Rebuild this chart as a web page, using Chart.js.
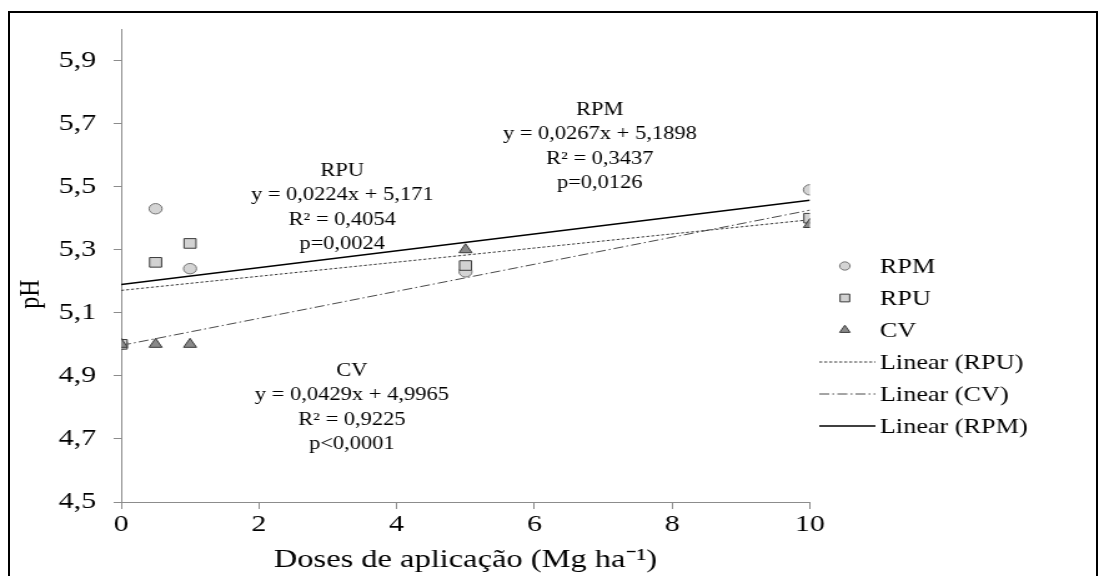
<!DOCTYPE html>
<html>
<head>
<meta charset="utf-8">
<script src="https://cdn.jsdelivr.net/npm/chart.js@4.4.0/dist/chart.umd.min.js"></script>
<style>
  html, body { margin: 0; padding: 0; background: #fff; overflow: hidden; }
  #frame { position: absolute; left: 8px; top: 11px; width: 1090px; height: 640px; border: 2px solid #000; box-sizing: border-box; }
  #chart { position: absolute; left: 0; top: 0; }
</style>
</head>
<body>
<div id="frame"></div>
<!-- drawn at 880px and stretched to 1099px, the reference is wider than it is tall -->
<canvas id="chart" width="880" height="576" style="width:1099px;height:576px"></canvas>
<script>
const doses = [0, 0.5, 1, 5, 10];
const phRPM = [5.00, 5.43, 5.24, 5.23, 5.49];
const phRPU = [5.00, 5.26, 5.32, 5.25, 5.40];
const phCV = [5.00, 5.00, 5.00, 5.30, 5.38];

// fitted lines, in legend order: RPU, CV, RPM
const trendNames = ['Linear (RPU)', 'Linear (CV)', 'Linear (RPM)'];
const trendSlope = [0.0224, 0.0429, 0.0267];
const trendIntercept = [5.171, 4.9965, 5.1898];

const xTicks = [0, 2, 4, 6, 8, 10];
const yTicks = [4.5, 4.7, 4.9, 5.1, 5.3, 5.5, 5.7, 5.9];

const eqRPU = ['RPU', 'y = 0,0224x + 5,171', 'R² = 0,4054', 'p=0,0024'];
const eqRPM = ['RPM', 'y = 0,0267x + 5,1898', 'R² = 0,3437', 'p=0,0126'];
const eqCV = ['CV', 'y = 0,0429x + 4,9965', 'R² = 0,9225', 'p<0,0001'];

const serif = "'Liberation Serif', 'Times New Roman', serif";

const pts = (ys) => doses.map((x, i) => ({x: x, y: ys[i]}));
const trend = (k) => [doses[0], doses[doses.length - 1]].map(x => ({x: x, y: trendIntercept[k] + trendSlope[k] * x}));

// where each equation block sits (data coords of its first line)
const eqPlaces = [
    {lines: eqRPU, x: 3.21, y: 5.549},
    {lines: eqRPM, x: 6.95, y: 5.743},
    {lines: eqCV, x: 3.35, y: 4.915}
];

const notes = {
    id: 'notes',
    afterDraw(chart) {
        const ctx = chart.ctx;
        const sx = chart.scales.x, sy = chart.scales.y;
        ctx.save();
        ctx.fillStyle = '#000';
        ctx.textAlign = 'center';
        ctx.textBaseline = 'middle';
        ctx.font = '18px ' + serif;
        eqPlaces.forEach(b => {
            const px = sx.getPixelForValue(b.x);
            const py = sy.getPixelForValue(b.y);
            b.lines.forEach((t, i) => ctx.fillText(t, px, py + i * 24.5));
        });

        // y title
        ctx.save();
        ctx.translate(25, 294);
        ctx.rotate(-Math.PI / 2);
        ctx.font = '24px ' + serif;
        ctx.fillText('pH', 0, 0);
        ctx.restore();

        // legend on the right
        const rows = [266, 298, 330, 362, 394, 426];
        ctx.font = '21px ' + serif;
        ctx.textAlign = 'left';
        chart.data.datasets.forEach((ds, i) => {
            const y = rows[i];
            if (ds.showLine) {
                ctx.save();
                ctx.strokeStyle = ds.borderColor;
                ctx.lineWidth = ds.borderWidth;
                ctx.setLineDash(ds.borderDash || []);
                ctx.beginPath();
                ctx.moveTo(656, y);
                ctx.lineTo(701, y);
                ctx.stroke();
                ctx.restore();
            } else {
                ctx.save();
                ctx.fillStyle = ds.backgroundColor;
                ctx.strokeStyle = ds.borderColor;
                ctx.lineWidth = 1;
                Chart.helpers.drawPoint(ctx, {pointStyle: ds.pointStyle, radius: ds.pointRadius * 0.8, rotation: 0, borderWidth: 1}, 676.5, y);
                ctx.restore();
            }
            ctx.fillStyle = '#000';
            ctx.fillText(ds.label, 704.5, y + 1);
        });
        ctx.restore();
    }
};

new Chart('chart', {
    type: 'scatter',
    data: {
        datasets: [{
            label: 'RPM',
            data: pts(phRPM),
            pointStyle: 'circle',
            pointRadius: 5.2,
            backgroundColor: '#d4d4d4',
            borderColor: '#737373',
            borderWidth: 1,
            order: 3
        }, {
            label: 'RPU',
            data: pts(phRPU),
            pointStyle: 'rect',
            pointRadius: 6.8,
            backgroundColor: '#d2d2d2',
            borderColor: '#3c3c3c',
            borderWidth: 1,
            order: 2
        }, {
            label: 'CV',
            data: pts(phCV),
            pointStyle: 'triangle',
            pointRadius: 6,
            backgroundColor: '#8a8a8a',
            borderColor: '#3c3c3c',
            borderWidth: 1,
            order: 1
        }, {
            label: trendNames[0],
            data: trend(0),
            showLine: true,
            pointRadius: 0,
            borderColor: '#3a3a3a',
            borderWidth: 1,
            borderDash: [2.4, 1.6],
            order: 4
        }, {
            label: trendNames[1],
            data: trend(1),
            showLine: true,
            pointRadius: 0,
            borderColor: '#4a4a4a',
            borderWidth: 1,
            borderDash: [8, 2.5, 1.5, 2.5],
            order: 4
        }, {
            label: trendNames[2],
            data: trend(2),
            showLine: true,
            pointRadius: 0,
            borderColor: '#000',
            borderWidth: 1.6,
            order: 4
        }]
    },
    options: {
        responsive: false,
        animation: false,
        events: [],
        layout: {
            padding: {top: 29, right: 231.5, bottom: 0, left: 0}
        },
        plugins: {
            legend: {display: false},
            tooltip: {enabled: false}
        },
        scales: {
            x: {
                type: 'linear',
                min: 0,
                max: 10,
                afterBuildTicks: s => { s.ticks = xTicks.map(v => ({value: v})); },
                afterFit: s => { s.height = 74; },
                grid: {drawOnChartArea: false, drawTicks: true, tickLength: 7, color: '#8c8c8c'},
                border: {color: '#8c8c8c', width: 1},
                ticks: {
                    color: '#000',
                    font: {family: serif, size: 24},
                    padding: 1,
                    maxRotation: 0,
                    callback: v => String(v)
                },
                title: {
                    display: true,
                    text: 'Doses de aplicação (Mg ha⁻¹)',
                    color: '#000',
                    font: {family: serif, size: 26},
                    padding: {top: 0, bottom: 0}
                }
            },
            y: {
                type: 'linear',
                min: 4.5,
                max: 6.0,
                afterBuildTicks: s => { s.ticks = yTicks.map(v => ({value: v})); },
                afterFit: s => { s.width = 97; },
                grid: {drawOnChartArea: false, drawTicks: true, tickLength: 6, color: '#8c8c8c'},
                border: {color: '#8c8c8c', width: 1},
                ticks: {
                    color: '#000',
                    font: {family: serif, size: 24},
                    padding: 14,
                    callback: v => v.toFixed(1).replace('.', ',')
                }
            }
        }
    },
    plugins: [notes]
});
</script>
</body>
</html>
